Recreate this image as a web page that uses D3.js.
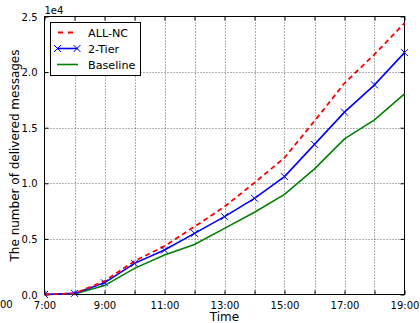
<!DOCTYPE html>
<html><head><meta charset="utf-8">
<script src="https://cdn.jsdelivr.net/npm/d3@7"></script>
<style>
html,body{margin:0;padding:0;background:#fff;}
svg{display:block;font-family:"DejaVu Sans",sans-serif;}
</style></head>
<body>
<svg id="c" width="420" height="323"></svg>
<script>
const hours = [7,8,9,10,11,12,13,14,15,16,17,18,19];
const allNC = [0,100,1200,3000,4350,6100,7900,10050,12300,15600,19000,21600,24400];
const twoTier = [0,100,1050,2800,4000,5500,7000,8650,10600,13500,16400,18850,21750];
const baseline = [0,50,800,2350,3550,4500,5950,7400,9000,11300,14000,15700,18050];
const xTickLabels = ["7:00","","9:00","","11:00","","13:00","","15:00","","17:00","","19:00"];
const yTicks = [0,5000,10000,15000,20000,25000];
const yTickLabels = ["0.0","0.5","1.0","1.5","2.0","2.5"];
const seriesNames = ["ALL-NC","2-Tier","Baseline"];

const svg = d3.select("#c");
const L=44.5, R=404.5, T=16.5, B=294.5;
const x = d3.scaleLinear().domain([7,19]).range([L,R]);
const y = d3.scaleLinear().domain([0,25000]).range([B,T]);

// grid
const g = svg.append("g");
g.selectAll(".vg").data(hours.slice(1,-1)).enter().append("line")
  .attr("x1",d=>Math.round(x(d))+0.5).attr("x2",d=>Math.round(x(d))+0.5)
  .attr("y1",T).attr("y2",B)
  .attr("stroke","#000").attr("stroke-width",0.6).attr("stroke-dasharray","1,2");
g.selectAll(".hg").data(yTicks.slice(1,-1)).enter().append("line")
  .attr("x1",L).attr("x2",R)
  .attr("y1",d=>Math.round(y(d))+0.5).attr("y2",d=>Math.round(y(d))+0.5)
  .attr("stroke","#000").attr("stroke-width",0.6).attr("stroke-dasharray","1,2");

// axes via d3 axis (inward ticks)
const xb = d3.axisBottom(x).tickValues(hours).tickSize(-4).tickPadding(7)
  .tickFormat((d,i)=>xTickLabels[i]);
const ax = svg.append("g").attr("transform",`translate(0,${B})`).call(xb);
const xt = d3.axisTop(x).tickValues(hours).tickSize(-4).tickFormat("");
svg.append("g").attr("transform",`translate(0,${T})`).call(xt);
const yl = d3.axisLeft(y).tickValues(yTicks).tickSize(-4).tickPadding(7)
  .tickFormat((d,i)=>yTickLabels[i]);
const ay = svg.append("g").attr("transform",`translate(${L},0)`).call(yl);
const yr = d3.axisRight(y).tickValues(yTicks).tickSize(-4).tickFormat("");
svg.append("g").attr("transform",`translate(${R},0)`).call(yr);
svg.selectAll(".domain").remove();
svg.selectAll(".tick line").attr("stroke","#000").attr("stroke-width",1);
svg.selectAll(".tick text").attr("font-size",10).attr("fill","#000")
  .attr("font-family","DejaVu Sans");
ay.selectAll(".tick text").attr("dy","0.36em");

// frame
svg.append("rect").attr("x",L).attr("y",T).attr("width",R-L).attr("height",B-T)
  .attr("fill","none").attr("stroke","#000").attr("stroke-width",1);

// lines
const line = d3.line().x((d,i)=>x(hours[i])).y(d=>y(d));
const clip = svg.append("clipPath").attr("id","pc").append("rect")
  .attr("x",L).attr("y",T-4).attr("width",R-L+4).attr("height",B-T+8);
const pg = svg.append("g").attr("clip-path","url(#pc)");
pg.append("path").datum(baseline).attr("d",line).attr("fill","none")
  .attr("stroke","#008000").attr("stroke-width",1.6);
pg.append("path").datum(twoTier).attr("d",line).attr("fill","none")
  .attr("stroke","#0000ff").attr("stroke-width",1.6);
pg.append("path").datum(allNC).attr("d",line).attr("fill","none")
  .attr("stroke","#ff0000").attr("stroke-width",1.8).attr("stroke-dasharray","5,3.5");
const ms = 3.5;
pg.selectAll(".mk").data(twoTier).enter().append("path")
  .attr("d",(d,i)=>{const cx=x(hours[i]),cy=y(d);
    return `M${cx-ms},${cy-ms}L${cx+ms},${cy+ms}M${cx-ms},${cy+ms}L${cx+ms},${cy-ms}`;})
  .attr("stroke","#0000ff").attr("stroke-width",1).attr("fill","none");

// labels
svg.append("text").attr("x",(L+R)/2).attr("y",321).attr("text-anchor","middle")
  .attr("font-size",12).text("Time");
svg.append("text").attr("transform",`translate(19,${(T+B)/2}) rotate(-90)`)
  .attr("text-anchor","middle").attr("font-size",12).text("The number of delivered messages");
svg.append("text").attr("x",L).attr("y",14).attr("font-size",10).text("1e4");
svg.append("text").attr("x",0).attr("y",307.5).attr("font-size",10).text("00");

// legend
const lg = svg.append("g");
lg.append("rect").attr("x",50.5).attr("y",22.5).attr("width",90).attr("height",53)
  .attr("fill","#fff").attr("stroke","#000").attr("stroke-width",1);
const rows = [32.5,48.5,64.5];
const colors = ["#ff0000","#0000ff","#008000"];
seriesNames.forEach((n,i)=>{
  const ly = rows[i];
  const ln = lg.append("line").attr("x1",57).attr("x2",78).attr("y1",ly).attr("y2",ly)
    .attr("stroke",colors[i]).attr("stroke-width",i===0?1.8:1.6);
  if(i===0) ln.attr("stroke-dasharray","5,5").attr("x1",58).attr("x2",74);
  if(i===1){
    [57.5,77].forEach(cx=>{
      lg.append("path").attr("d",`M${cx-ms},${ly-ms}L${cx+ms},${ly+ms}M${cx-ms},${ly+ms}L${cx+ms},${ly-ms}`)
        .attr("stroke","#0000ff").attr("stroke-width",1);
    });
  }
  lg.append("text").attr("x",88).attr("y",ly+4).attr("font-size",11.2).text(n);
});
</script>
</body></html>
